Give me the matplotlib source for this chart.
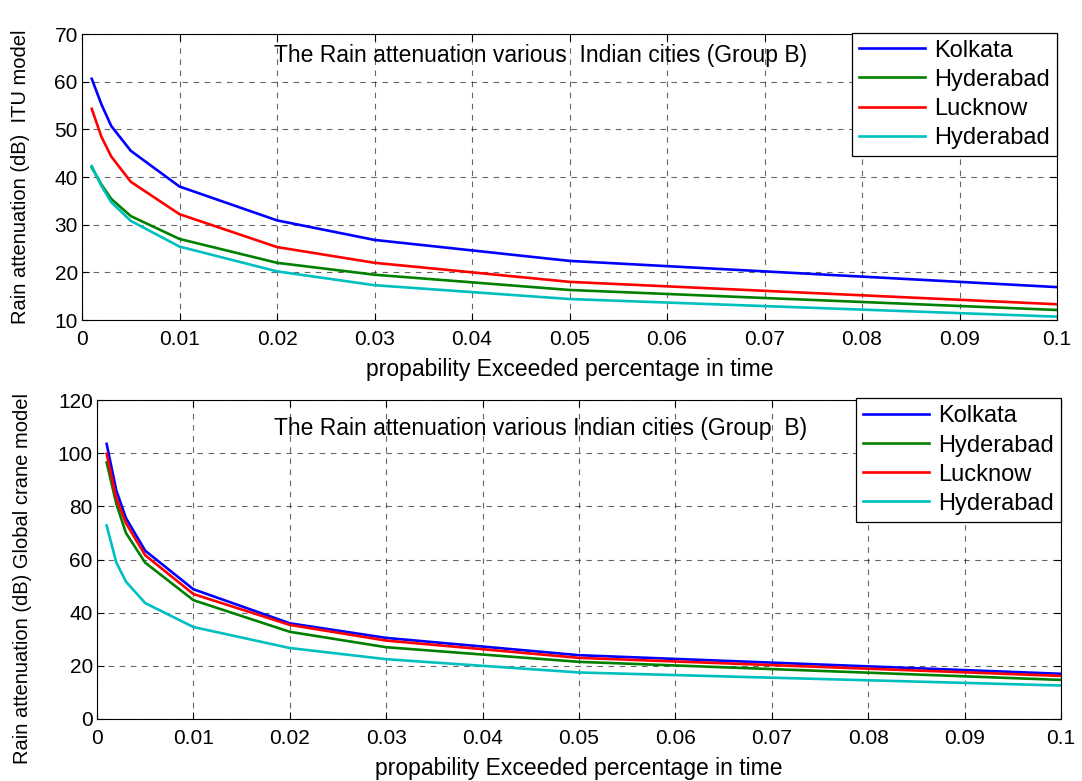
import matplotlib
matplotlib.use("Agg")
import matplotlib.pyplot as plt

plt.rcParams['font.family'] = ['Liberation Sans', 'DejaVu Sans']

prob = [0.001, 0.002, 0.003, 0.005, 0.01, 0.02, 0.03, 0.05, 0.1]

# ITU model
itu_kolkata = [60.6, 55.2, 50.7, 45.5, 38.0, 30.9, 26.8, 22.4, 16.9]
itu_hyderabad = [42.0, 38.4, 35.4, 31.8, 27.0, 22.0, 19.5, 16.3, 12.1]
itu_lucknow = [54.3, 48.4, 44.3, 39.0, 32.2, 25.3, 22.0, 18.0, 13.3]
itu_hyderabad2 = [42.3, 38.1, 34.7, 30.8, 25.4, 20.2, 17.3, 14.4, 10.7]

# Global crane model
gc_kolkata = [103.5, 86.0, 75.6, 63.3, 48.8, 36.0, 30.5, 24.0, 17.0]
gc_hyderabad = [96.5, 81.0, 70.0, 58.8, 44.7, 32.8, 27.0, 21.5, 14.7]
gc_lucknow = [99.8, 83.0, 73.7, 61.6, 47.0, 35.4, 29.5, 23.0, 16.2]
gc_hyderabad2 = [72.8, 58.9, 51.7, 43.6, 34.6, 26.7, 22.5, 17.5, 12.6]

labels = ['Kolkata', 'Hyderabad', 'Lucknow', 'Hyderabad']
colors = ['#0000ff', '#008000', '#ff0000', '#00bfbf']

fig = plt.figure(figsize=(10.82, 7.81), dpi=100)
W, H = 1082, 781
ax1 = fig.add_axes([82 / W, 1 - 320 / H, (1057 - 82) / W, (320 - 34) / H])
ax2 = fig.add_axes([97 / W, 1 - 719 / H, (1061 - 97) / W, (719 - 400) / H])


def style_axes(ax, series, ylim, yticks, ylabel, ylabel_x, ylabel_y, title, title_x, title_y):
    for ys, lab, c in zip(series, labels, colors):
        ax.plot(prob, ys, color=c, lw=1.9, label=lab)
    ax.set_xlim(0, 0.1)
    ax.set_ylim(*ylim)
    ax.set_xticks([i / 100 for i in range(11)])
    ax.set_xticklabels(['0'] + ['%.2f' % (i / 100) for i in range(1, 10)] + ['0.1'])
    ax.set_yticks(yticks)
    ax.grid(True, color='black', linestyle=(0, (5, 5)), linewidth=0.8, alpha=0.6)
    ax.tick_params(direction='in', labelsize=15, length=5, top=True, right=True)
    ax.tick_params(axis='x', pad=7)
    ax.tick_params(axis='y', pad=3)
    ax.set_xlabel('propability Exceeded percentage in time', fontsize=16.5, labelpad=7)
    ax.set_ylabel(ylabel, fontsize=14.5)
    ax.yaxis.set_label_coords(ylabel_x, ylabel_y)
    ax.text(title_x, title_y, title, transform=ax.transAxes, ha='center', va='center', fontsize=16.5)
    leg = ax.legend(loc='upper right', fontsize=17, fancybox=False, framealpha=1,
                    edgecolor='black', borderaxespad=0, handlelength=2.8,
                    labelspacing=0.3, borderpad=0.3, handletextpad=0.4,
                    bbox_to_anchor=(1.0, 1.005))
    leg.get_frame().set_linewidth(0.9)


style_axes(ax1, [itu_kolkata, itu_hyderabad, itu_lucknow, itu_hyderabad2],
           (10, 70), range(10, 71, 10), 'Rain attenuation (dB)  ITU model', -52 / 975, 0.5,
           'The Rain attenuation various  Indian cities (Group B)', 0.47, 0.925)
style_axes(ax2, [gc_kolkata, gc_hyderabad, gc_lucknow, gc_hyderabad2],
           (0, 120), range(0, 121, 20), 'Rain attenuation (dB) Global crane model', -65 / 964, 0.44,
           'The Rain attenuation various Indian cities (Group  B)', 0.46, 0.912)

fig.savefig('out.png', dpi=100)
